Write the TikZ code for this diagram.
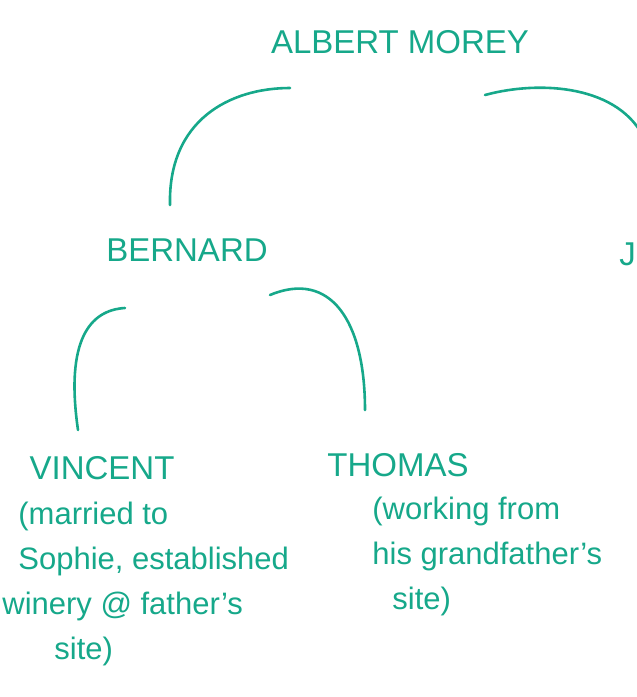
\documentclass[tikz,border=0pt]{standalone}
\usepackage{fontspec}
\setmainfont{Liberation Sans}
\definecolor{ink}{RGB}{22,168,138}
\begin{document}
\begin{tikzpicture}[x=0.5pt,y=-0.5pt,line cap=round,
    every node/.style={text=ink,inner sep=0pt},
    person/.style={font=\fontsize{16.5}{20}\selectfont},
    note/.style={font=\fontsize{15.5}{22.5}\selectfont,align=left,anchor=north west},
    branch/.style={draw=ink,line width=1.3pt}]
    \useasboundingbox (0,0) rectangle (637,697);
    % names
    \node[person] (albert) at (400,42) {ALBERT MOREY};
    \node[person] (bernard) at (187,250) {BERNARD};
    \node[person,anchor=west] (j) at (619,254) {J};
    \node[person] (vincent) at (102,468) {VINCENT};
    \node[person] (thomas) at (398,465) {THOMAS};
    \node[note] (vnote) at (18,502) {(married to\\ Sophie, established\\ \hspace*{-8pt}winery @ father's\\ \hspace*{18pt}site)};
    \node[note] (tnote) at (372,497) {(working from\\ his grandfather's\\ \hspace*{10pt}site)};
    % branch ends
    \coordinate (albL) at (290,88);
    \coordinate (albR) at (485,95);
    \coordinate (berU) at (170,205);
    \coordinate (jU) at (645,140);
    \coordinate (berL) at (125,308);
    \coordinate (berR) at (270,295);
    \coordinate (vinU) at (78,430);
    \coordinate (thoU) at (365,410);
    % branches
    \draw[branch] (berU) .. controls (168,120) and (230,88) .. (albL);
    \draw[branch] (albR) .. controls (540,80) and (620,85) .. (jU);
    \draw[branch] (vinU) .. controls (65,340) and (90,310) .. (berL);
    \draw[branch] (berR) .. controls (330,270) and (365,320) .. (thoU);
\end{tikzpicture}
\end{document}
